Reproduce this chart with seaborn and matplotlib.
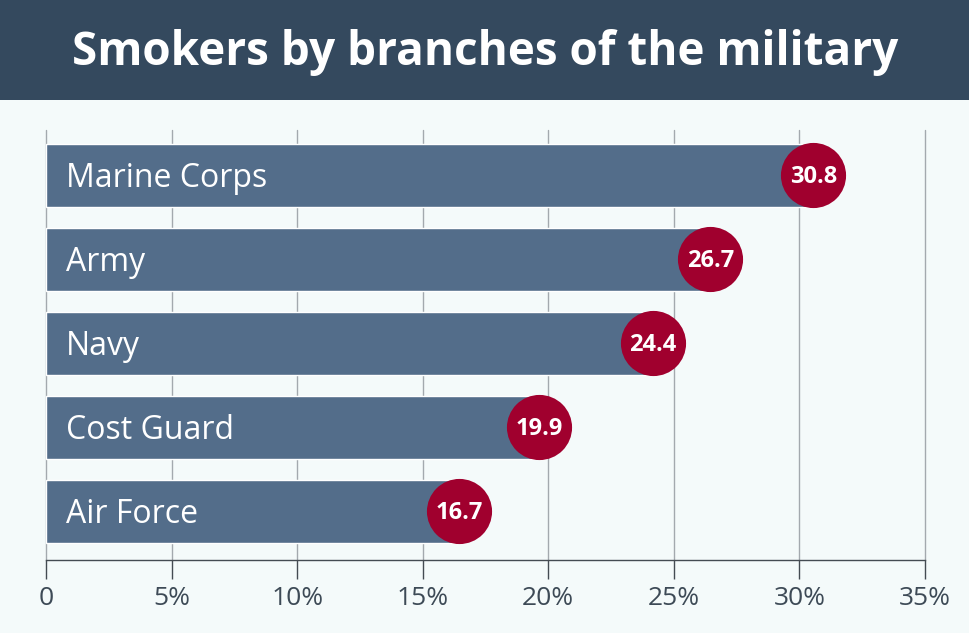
import matplotlib.pyplot as plt
import seaborn as sns

branches = ["Marine Corps", "Army", "Navy", "Cost Guard", "Air Force"]
smokers_pct = [30.8, 26.7, 24.4, 19.9, 16.7]
tick_values = [0, 5, 10, 15, 20, 25, 30, 35]
tick_labels = ["0", "5%", "10%", "15%", "20%", "25%", "30%", "35%"]

BG = "#f4fafa"
BANNER = "#34495e"
BAR = "#536d8a"
DOT = "#a0002e"
TEXT = "#3d4a56"

sns.set_theme(style="white")
plt.rcParams["font.family"] = ["Open Sans", "DejaVu Sans"]

fig = plt.figure(figsize=(9.7, 6.33), dpi=100, facecolor=BG)

# title banner
banner = fig.add_axes([0, 1 - 100 / 633, 1, 100 / 633])
banner.set_facecolor(BANNER)
banner.set_xticks([])
banner.set_yticks([])
for s in banner.spines.values():
    s.set_visible(False)
banner.text(0.5, 0.48, "Smokers by branches of the military", color="white",
            fontsize=33, fontweight="bold", ha="center", va="center",
            transform=banner.transAxes)

ax = fig.add_axes([46 / 970, 1 - 560 / 633, 879 / 970, 430 / 633])
ax.set_facecolor(BG)
ax.set_axisbelow(True)
ax.xaxis.grid(True, color="#a3a9ae", linewidth=1)

sns.barplot(x=smokers_pct, y=branches, orient="h", color=BAR, saturation=1,
            width=0.75, ax=ax, zorder=2)

# circles sit a touch left of the bar end, as in the original
dot_x = [v - 0.25 for v in smokers_pct]
ax.scatter(dot_x, range(len(branches)), s=2200, color=DOT, zorder=3,
           linewidths=0)
for i, (name, v, dx) in enumerate(zip(branches, smokers_pct, dot_x)):
    ax.text(0.78, i + 0.04, name, color="white", fontsize=23, va="center",
            ha="left", zorder=4)
    ax.text(dx, i + 0.02, f"{v:.1f}", color="white", fontsize=17,
            fontweight="bold", va="center", ha="center", zorder=4)

ax.set_xlim(0, 35)
ax.set_ylim(4.58, -0.54)
ax.set_xticks(tick_values)
ax.set_xticklabels(tick_labels, color=TEXT, fontsize=19)
ax.set_yticks([])
ax.set_xlabel("")
ax.set_ylabel("")
ax.tick_params(axis="x", which="both", bottom=True, length=14, width=1,
               color="#444b52", pad=5)
for gl in ax.get_xgridlines():
    gl.set_clip_on(False)
for side in ["top", "right", "left"]:
    ax.spines[side].set_visible(False)
ax.spines["bottom"].set_color("#444b52")
ax.spines["bottom"].set_linewidth(1)

fig.savefig("out.png", dpi=100, facecolor=BG)
